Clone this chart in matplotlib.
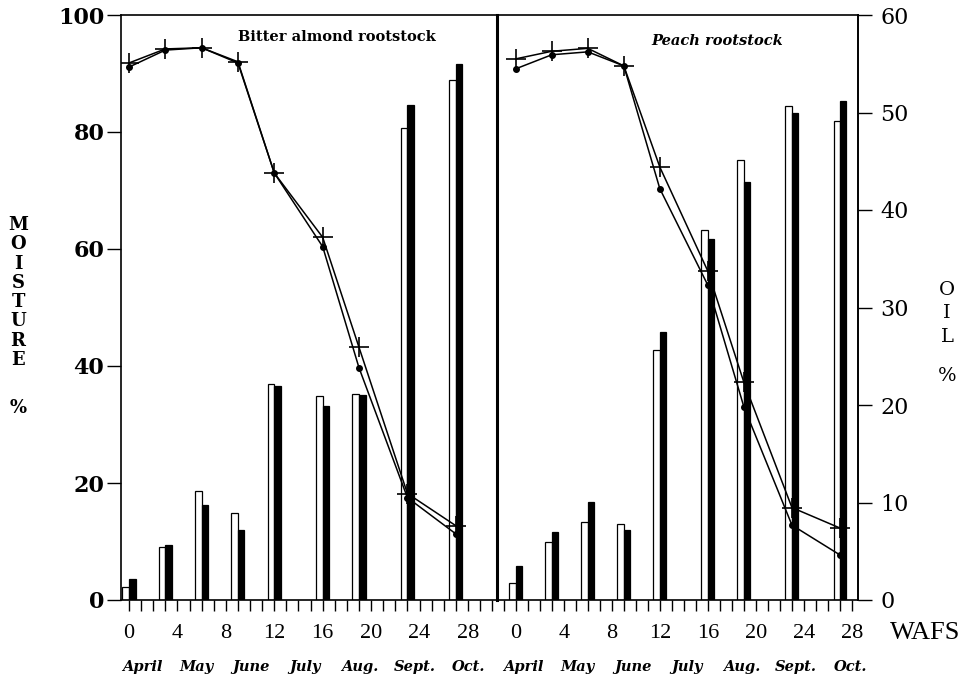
import numpy as np
import matplotlib.pyplot as plt
from matplotlib.ticker import FixedLocator

# weeks after full spring (WAFS) at which samples were taken
weeks = [0, 3, 6, 9, 12, 16, 19, 23, 27]

# moisture % (lines) - two seasons, "+" and dot markers
almond_moist_cross = [91.8, 94.2, 94.4, 92.0, 73.0, 62.0, 43.2, 18.2, 12.7]
almond_moist_dot = [91.1, 94.0, 94.4, 91.8, 73.0, 60.4, 39.7, 17.5, 11.3]
peach_moist_cross = [92.5, 93.8, 94.3, 91.3, 74.0, 56.2, 37.2, 15.8, 12.3]
peach_moist_dot = [90.8, 93.2, 93.7, 91.3, 70.3, 53.8, 33.0, 12.8, 7.7]

# oil % (bars) - white and black bars
almond_oil_white = [1.3, 5.4, 11.2, 8.9, 22.2, 20.9, 21.1, 48.4, 53.3]
almond_oil_black = [2.2, 5.6, 9.7, 7.2, 21.9, 19.9, 21.0, 50.8, 55.0]
peach_oil_white = [1.7, 6.0, 8.0, 7.8, 25.6, 37.9, 45.1, 50.7, 49.1]
peach_oil_black = [3.5, 7.0, 10.1, 7.2, 27.5, 37.0, 42.9, 49.9, 51.2]

months = ["April", "May", "June", "July", "Aug.", "Sept.", "Oct."]
week_labels = [0, 4, 8, 12, 16, 20, 24, 28]

fig = plt.figure(figsize=(9.75, 6.79), dpi=100)
axL = fig.add_axes([121/975, 1-600/679, 376/975, 585/679])
axR = fig.add_axes([497/975, 1-600/679, 361/975, 585/679])

def draw_panel(ax, moist_cross, moist_dot, oil_white, oil_black, xlim, tick_weeks):
    axo = ax.twinx()
    w = np.array(weeks)
    axo.bar(w - 0.27, oil_white, width=0.54, color="white", edgecolor="black", linewidth=0.9)
    axo.bar(w + 0.27, oil_black, width=0.54, color="black", edgecolor="black", linewidth=0.9)
    axo.set_ylim(0, 60)

    ax.set_zorder(axo.get_zorder() + 1)
    ax.patch.set_visible(False)
    ax.plot(weeks, moist_cross, color="black", lw=1.1, marker="+", ms=15, mew=1.2)
    ax.plot(weeks, moist_dot, color="black", lw=1.1, marker="o", ms=4)
    ax.set_ylim(0, 100)
    ax.set_xlim(*xlim)

    ax.xaxis.set_major_locator(FixedLocator(tick_weeks))
    ax.set_xticklabels([str(t) if t in week_labels else "" for t in tick_weeks],
                       fontfamily="Liberation Serif", fontsize=16)
    ax.tick_params(axis="x", direction="out", length=8, width=1, pad=9)
    for sp in ax.spines.values():
        sp.set_linewidth(1.2)
    for sp in axo.spines.values():
        sp.set_visible(False)
    return axo

axoL = draw_panel(axL, almond_moist_cross, almond_moist_dot, almond_oil_white, almond_oil_black,
                  (-0.66, 30.4), list(range(0, 31)))
axoR = draw_panel(axR, peach_moist_cross, peach_moist_dot, peach_oil_white, peach_oil_black,
                  (-1.56, 28.5), list(range(-1, 29)))

# left panel: moisture axis on the left
axL.set_yticks([0, 20, 40, 60, 80, 100])
axL.set_yticklabels(["0", "20", "40", "60", "80", "100"], fontfamily="DejaVu Serif",
                    fontweight="bold", fontsize=16)
axL.tick_params(axis="y", direction="out", length=10, width=1, pad=2)
axoL.set_yticks([])
axL.spines["right"].set_linewidth(2.2)

# right panel: oil axis on the right
axR.set_yticks([])
axR.spines["left"].set_visible(False)
axoR.set_yticks([0, 10, 20, 30, 40, 50, 60])
axoR.set_yticklabels(["0", "10", "20", "30", "40", "50", "60"], fontfamily="DejaVu Serif", fontsize=16)
axoR.tick_params(axis="y", direction="out", length=10, width=1, pad=6)
axoR.spines["right"].set_visible(True)
axoR.spines["right"].set_linewidth(1.2)

axL.text(0.574, 0.962, "Bitter almond rootstock", transform=axL.transAxes, ha="center", va="center",
         fontfamily="DejaVu Serif", fontweight="bold", fontsize=10.5)
axR.text(0.609, 0.955, "Peach rootstock", transform=axR.transAxes, ha="center", va="center",
         fontfamily="DejaVu Serif", fontweight="bold", fontstyle="italic", fontsize=10.5)

fig.text(925/975, 1-633/679, "WAFS", ha="center", va="center", fontfamily="Liberation Serif", fontsize=19)

# month labels under the week axis
for i, x in enumerate(np.linspace(142, 850.5, 14)):
    fig.text(x/975, 1-667/679, months[i % 7], ha="center", va="center",
             fontfamily="DejaVu Serif", fontweight="bold", fontstyle="italic", fontsize=10.5)

# stacked axis titles
for i, ch in enumerate("MOISTURE"):
    fig.text(18/975, 1-(225 + i*19.3)/679, ch, ha="center", va="center",
             fontfamily="DejaVu Serif", fontweight="bold", fontsize=13)
fig.text(18/975, 1-408/679, "%", ha="center", va="center", fontfamily="DejaVu Serif",
         fontweight="bold", fontsize=13)
for y, ch in zip([290, 313, 337, 376], ["O", "I", "L", "%"]):
    fig.text(947/975, 1-y/679, ch, ha="center", va="center", fontfamily="DejaVu Serif", fontsize=14)

fig.savefig("out.png", dpi=100)
